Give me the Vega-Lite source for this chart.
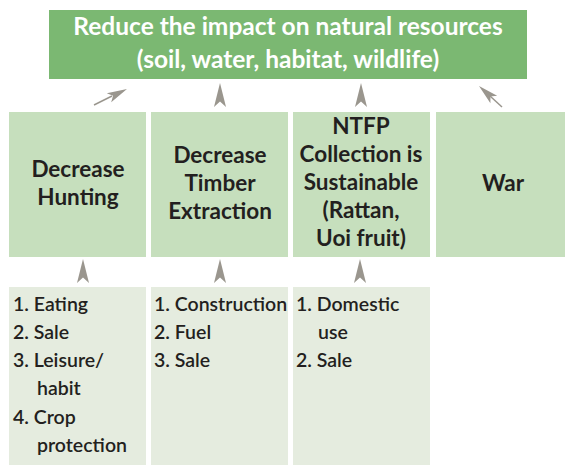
{
  "$schema": "https://vega.github.io/schema/vega-lite/v6.json",
  "width": 565,
  "height": 465,
  "padding": 0,
  "autosize": {"type": "none"},
  "background": "white",
  "config": {"view": {"stroke": null}, "axis": {"disable": true}},
  "datasets": {
    "boxes": [
      {"x": 49, "x2": 527, "y": 10, "y2": 79, "kind": "goal"},
      {"x": 9, "x2": 146, "y": 112, "y2": 257, "kind": "strategy"},
      {"x": 151, "x2": 288, "y": 112, "y2": 257, "kind": "strategy"},
      {"x": 293, "x2": 430, "y": 112, "y2": 257, "kind": "strategy"},
      {"x": 436, "x2": 565, "y": 112, "y2": 257, "kind": "strategy"},
      {"x": 9, "x2": 146, "y": 287, "y2": 465, "kind": "reason"},
      {"x": 151, "x2": 288, "y": 287, "y2": 465, "kind": "reason"},
      {"x": 293, "x2": 430, "y": 287, "y2": 465, "kind": "reason"}
    ],
    "goal": [
      {"x": 288, "y": 35, "t": "Reduce the impact on natural resources"},
      {"x": 288, "y": 68, "t": "(soil, water, habitat, wildlife)"}
    ],
    "strategy": [
      {"x": 78, "y": 177, "t": "Decrease"},
      {"x": 78, "y": 205, "t": "Hunting"},
      {"x": 220, "y": 163, "t": "Decrease"},
      {"x": 220, "y": 191, "t": "Timber"},
      {"x": 220, "y": 219, "t": "Extraction"},
      {"x": 361, "y": 134, "t": "NTFP"},
      {"x": 361, "y": 162, "t": "Collection is"},
      {"x": 361, "y": 190, "t": "Sustainable"},
      {"x": 361, "y": 218, "t": "(Rattan,"},
      {"x": 361, "y": 246, "t": "Uoi fruit)"},
      {"x": 503, "y": 191, "t": "War"}
    ],
    "reason": [
      {"x": 13, "y": 311, "t": "1. Eating"},
      {"x": 13, "y": 339, "t": "2. Sale"},
      {"x": 13, "y": 367, "t": "3. Leisure/"},
      {"x": 37, "y": 395, "t": "habit"},
      {"x": 13, "y": 424, "t": "4. Crop"},
      {"x": 37, "y": 452, "t": "protection"},
      {"x": 154, "y": 311, "t": "1. Construction"},
      {"x": 154, "y": 339, "t": "2. Fuel"},
      {"x": 154, "y": 367, "t": "3. Sale"},
      {"x": 296, "y": 311, "t": "1. Domestic"},
      {"x": 318, "y": 339, "t": "use"},
      {"x": 296, "y": 367, "t": "2. Sale"}
    ],
    "vheads": [
      {"x": 220, "y": 95},
      {"x": 361, "y": 95},
      {"x": 83, "y": 271},
      {"x": 220, "y": 271},
      {"x": 360, "y": 271}
    ],
    "dheads": [
      {"x": 118, "y": 93.4, "a": 64},
      {"x": 486.4, "y": 92.8, "a": -47.6}
    ],
    "stems": [
      {"x": 94, "y": 105, "x2": 112, "y2": 96},
      {"x": 502, "y": 107, "x2": 490, "y2": 96}
    ]
  },
  "encoding": {
    "x": {"field": "x", "type": "quantitative", "scale": {"domain": [0, 565], "range": [0, 565], "nice": false, "zero": false}, "axis": null},
    "y": {"field": "y", "type": "quantitative", "scale": {"domain": [0, 465], "range": [0, 465], "nice": false, "zero": false}, "axis": null}
  },
  "layer": [
    {
      "data": {"name": "boxes"},
      "mark": {"type": "rect"},
      "encoding": {
        "x2": {"field": "x2"},
        "y2": {"field": "y2"},
        "color": {"field": "kind", "type": "nominal", "legend": null,
          "scale": {"domain": ["goal", "strategy", "reason"], "range": ["#7bb872", "#c6dfbd", "#e5ecdf"]}}
      }
    },
    {
      "data": {"name": "stems"},
      "mark": {"type": "rule", "color": "#9a968e", "strokeWidth": 1.5},
      "encoding": {"x2": {"field": "x2"}, "y2": {"field": "y2"}}
    },
    {
      "data": {"name": "vheads"},
      "mark": {"type": "point", "shape": "M0,-1L0.5,1L0,0.55L-0.5,1Z", "filled": true, "color": "#9a968e", "opacity": 1, "size": 576}
    },
    {
      "data": {"name": "dheads"},
      "mark": {"type": "point", "shape": "M0,-1L0.5,1L0,0.55L-0.5,1Z", "filled": true, "color": "#9a968e", "opacity": 1, "size": 400},
      "encoding": {"angle": {"field": "a", "type": "quantitative", "scale": null}}
    },
    {
      "data": {"name": "goal"},
      "mark": {"type": "text", "font": "Lato", "fontWeight": "bold", "fontSize": 24.5, "color": "white", "align": "center", "baseline": "alphabetic"},
      "encoding": {"text": {"field": "t"}}
    },
    {
      "data": {"name": "strategy"},
      "mark": {"type": "text", "font": "Lato", "fontWeight": "bold", "fontSize": 22.5, "color": "#231f20", "align": "center", "baseline": "alphabetic"},
      "encoding": {"text": {"field": "t"}}
    },
    {
      "data": {"name": "reason"},
      "mark": {"type": "text", "font": "Lato", "fontWeight": 600, "fontSize": 19.5, "color": "#231f20", "align": "left", "baseline": "alphabetic"},
      "encoding": {"text": {"field": "t"}}
    }
  ]
}
